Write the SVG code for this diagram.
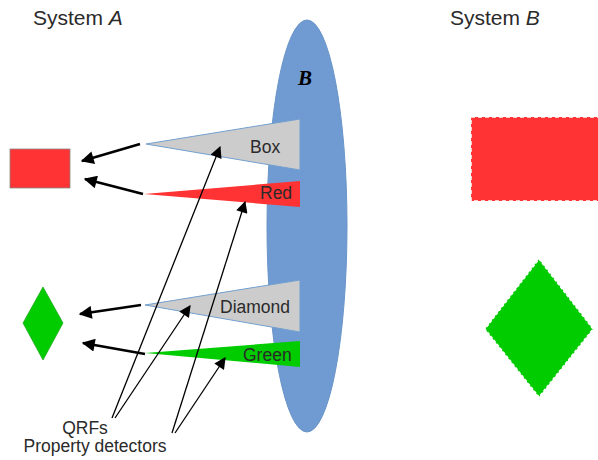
<svg xmlns="http://www.w3.org/2000/svg" width="598" height="460" viewBox="0 0 598 460">
<style>
text{font-family:"Liberation Sans",Arial,sans-serif;fill:#2a2a2a}
.t{font-size:21px}
.lbl{font-size:17.5px}
.thick{stroke:#000;stroke-width:2.6;fill:none}
.thin{stroke:#000;stroke-width:1.3;fill:none}
</style>
<defs>
<marker id="ahb" viewBox="0 0 10 10" refX="9" refY="5" markerWidth="6" markerHeight="5" orient="auto"><path d="M0,0L10,5L0,10z" fill="#000"/></marker>
<marker id="ahs" viewBox="0 0 10 10" refX="9" refY="5" markerWidth="10" markerHeight="9" orient="auto"><path d="M0,0L10,5L0,10z" fill="#000"/></marker>
</defs>
<g id="titleA"><text class="t" x="33" y="25">System <tspan font-style="italic">A</tspan></text></g>
<g id="titleB"><text class="t" x="450" y="25">System <tspan font-style="italic">B</tspan></text></g>
<g id="ellipseB">
<ellipse cx="307" cy="226" rx="40" ry="206" fill="#6f9bd2" stroke="#6a95c8" stroke-width="1"/>
<text x="298" y="85" font-style="italic" font-weight="bold" font-size="21" style="font-family:'Liberation Serif',serif;fill:#000">B</text>
</g>
<g id="boxDet"><polygon points="146,144 300,119 300,170" fill="#cccccc" stroke="#729fcf" stroke-width="1"/><text class="lbl" x="250" y="153">Box</text></g>
<g id="redDet"><polygon points="144,194 300,181 300,207" fill="#ff3333"/><text class="lbl" x="260" y="199">Red</text></g>
<g id="diamondDet"><polygon points="145,305 300,280 300,332" fill="#cccccc" stroke="#729fcf" stroke-width="1"/><text class="lbl" x="220" y="313">Diamond</text></g>
<g id="greenDet"><polygon points="145,353 300,341 300,367" fill="#00cc00"/><text class="lbl" x="243" y="361">Green</text></g>
<g id="rectA"><rect x="10" y="149" width="60" height="39" fill="#ff3333" stroke="#888" stroke-width="0.8"/></g>
<g id="diamondA"><polygon points="43,287 63,323 43,360 23,323" fill="#00cc00" stroke="#22aa22" stroke-width="0.8"/></g>
<g id="rectB"><rect x="471" y="117" width="140" height="84" fill="#ff3333" stroke="#fff" stroke-width="1.5" stroke-dasharray="4 3"/></g>
<g id="diamondB"><polygon points="539,259 593,329 539,397 485,329" fill="#00cc00" stroke="#fff" stroke-width="1.5" stroke-dasharray="3 2"/></g>
<g id="labels">
<text class="lbl" x="85" y="434" text-anchor="middle">QRFs</text>
<text class="lbl" x="95" y="452" text-anchor="middle">Property detectors</text>
</g>
<g id="connectors">
<line class="thick" x1="140" y1="144" x2="82" y2="161" marker-end="url(#ahb)"/>
<line class="thick" x1="143" y1="194" x2="85" y2="179" marker-end="url(#ahb)"/>
<line class="thick" x1="141" y1="305" x2="80" y2="314" marker-end="url(#ahb)"/>
<line class="thick" x1="145" y1="354" x2="83" y2="343" marker-end="url(#ahb)"/>
<line class="thin" x1="112" y1="418" x2="220" y2="147" marker-end="url(#ahs)"/>
<line class="thin" x1="115" y1="418" x2="190" y2="306" marker-end="url(#ahs)"/>
<line class="thin" x1="172" y1="433" x2="245" y2="202" marker-end="url(#ahs)"/>
<line class="thin" x1="175" y1="433" x2="225" y2="358" marker-end="url(#ahs)"/>
</g>
</svg>
